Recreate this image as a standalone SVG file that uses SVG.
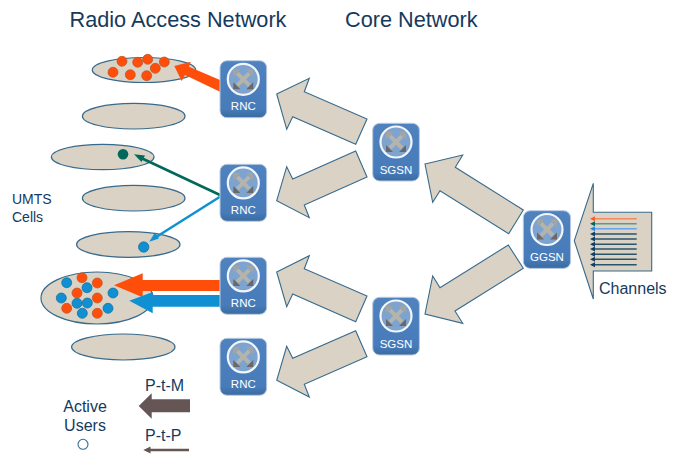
<svg xmlns="http://www.w3.org/2000/svg" xmlns:xlink="http://www.w3.org/1999/xlink" width="678" height="454" viewBox="0 0 678 454">
<style>
text{font-family:"Liberation Sans",Arial,sans-serif;fill:#153a5e}
.cell{fill:#d9d2c5;stroke:#376a8c;stroke-width:1.200}
.big{fill:#d9d2c5;stroke:#376a8c;stroke-width:1.100;stroke-linejoin:miter}
.o{fill:#ff4d0a;stroke:#b8552d;stroke-width:.7}
.b{fill:#0e90d2;stroke:#17699a;stroke-width:.7}
.box{fill:url(#bg);stroke:#b9cbe0;stroke-width:1}
.lab{fill:#fff;font-size:11.500px;text-anchor:middle}
.ch{stroke-width:1.500;fill:none}
</style>
<defs>
<linearGradient id="bg" x1="0" y1="0" x2="0" y2="1"><stop offset="0" stop-color="#4f82bf"/><stop offset=".85" stop-color="#477bb9"/><stop offset="1" stop-color="#3a6a9f"/></linearGradient>
<g id="icon">
<circle r="15.500" fill="#7fa3cf" stroke="#f2f6fb" stroke-width="2.200"/>
<path d="M-6-6L6 6M6-6L-6 6" stroke="#b4b4ac" stroke-width="4" fill="none"/>
<path d="M-10-3V-10H-3ZM10-3V-10H3Z" fill="#a5a5a0"/>
<path d="M-10 3V10H-3ZM10 3V10H3Z" fill="#6b6866"/>
</g>
</defs>

<g id="cells">
<ellipse class="cell" cx="144" cy="70" rx="51.700" ry="12.500"/>
<ellipse class="cell" cx="133.700" cy="116.200" rx="51.300" ry="12.800"/>
<ellipse class="cell" cx="102.700" cy="157" rx="51.300" ry="12.700"/>
<ellipse class="cell" cx="133.700" cy="198.200" rx="51.300" ry="12.800"/>
<ellipse class="cell" cx="128.300" cy="244.500" rx="51.700" ry="12.800"/>
<ellipse class="cell" cx="97" cy="298" rx="56" ry="26"/>
<ellipse class="cell" cx="123.300" cy="347" rx="51.700" ry="13"/>
</g>

<g id="users">
<circle class="o" cx="122" cy="61.300" r="5"/><circle class="o" cx="137.700" cy="62.300" r="5"/><circle class="o" cx="147.700" cy="59.300" r="5"/><circle class="o" cx="164.300" cy="62" r="5"/><circle class="o" cx="155.300" cy="68.300" r="5"/><circle class="o" cx="113" cy="72.300" r="5"/><circle class="o" cx="130.300" cy="74.700" r="5"/><circle class="o" cx="146.700" cy="75.700" r="5"/>
<circle cx="123" cy="154.300" r="5.300" fill="#00695c"/>
<circle class="b" cx="143.700" cy="247" r="5.200"/>
<circle class="b" cx="66.700" cy="282.700" r="5"/><circle class="b" cx="87" cy="287.700" r="5"/><circle class="b" cx="113" cy="293" r="5"/><circle class="b" cx="61.300" cy="298" r="5"/><circle class="b" cx="77" cy="303.300" r="5"/><circle class="b" cx="87.300" cy="303" r="5"/><circle class="b" cx="108" cy="308.300" r="5"/><circle class="b" cx="82.300" cy="313.300" r="5"/>
<circle class="o" cx="82" cy="277.700" r="5"/><circle class="o" cx="97.300" cy="283" r="5"/><circle class="o" cx="77" cy="293" r="5"/><circle class="o" cx="97.300" cy="298" r="5"/><circle class="o" cx="66.700" cy="308.300" r="5"/><circle class="o" cx="97.300" cy="313.300" r="5"/>
<circle cx="83" cy="444.300" r="5" fill="#fff" stroke="#376a8c" stroke-width="1.100"/>
</g>

<g id="connectors">
<polygon class="big" points="276.700,94 309.300,78.300 304.300,91.700 367,119 355.700,144.300 292.700,116.700 286.700,129.300"/>
<polygon class="big" points="276.700,200.700 286.700,166.700 292.700,179 355.700,151 367,177 304.300,205 309.300,217.700"/>
<polygon class="big" points="425,164 462.700,155 455.300,167.300 523.300,210 508.700,233.700 440,190.700 432.700,202.300"/>
<polygon class="big" points="425,314 432.700,276 440,287.700 508.300,245 523.300,268.300 455,311 462.700,323.300"/>
<polygon class="big" points="276.700,272 309.300,255.700 304.300,268.700 367,296 355.700,321.700 292.700,294 286.700,306.700"/>
<polygon class="big" points="276.700,380.300 286.700,346.300 292.700,358.300 355.700,330.700 367,356.700 304.300,384.300 309.300,397"/>
<polygon class="big" points="574.300,240.700 593.300,183.300 593.300,212.300 651.700,212.300 651.700,271 593.300,271 593.300,299"/>
<polygon points="174.300,66 190.700,61.700 189,66.700 220,80 220,91.700 185,75 181.700,81" fill="#ff4d0a"/>
<polygon points="114,285.300 142.700,273.300 142.700,280 220,280 220,291 142.700,291 142.700,297.300" fill="#ff4d0a"/>
<polygon points="129.300,300.700 152.700,292 152.700,295 220,295 220,306.700 152.700,306.700 152.700,313.300" fill="#0e90d2"/>
<path d="M220 195L138 156.500" stroke="#00695c" stroke-width="2.500" fill="none"/>
<polygon points="134,154.300 145,155.500 141.500,162" fill="#00695c"/>
<path d="M220 196.700L153 239" stroke="#0e90d2" stroke-width="2.500" fill="none"/>
<polygon points="149.300,241.700 155,232.500 159,238.500" fill="#0e90d2"/>
<polygon points="138.700,406 151.700,393.300 151.700,399.300 190,399.300 190,412.300 151.700,412.300 151.700,418.700" fill="#655555"/>
<path d="M149 450H189" stroke="#655555" stroke-width="2.500" fill="none"/>
<polygon points="143.300,450 150.500,446.500 150.500,453.500" fill="#655555"/>
<g class="ch">
<path d="M592 218.700H636.700" stroke="#f08a5d"/><path d="M592 223.700H636.700" stroke="#5f9a85"/><path d="M592 228.700H636.700" stroke="#66a3ee"/>
<path d="M592 234H636.700M592 239H636.700M592 244.300H636.700M592 249H636.700M592 254.300H636.700M592 259.300H636.700M592 264.700H636.700" stroke="#2c5468"/>
</g>
<polygon points="590,218.700 595,216.200 595,221.200" fill="#ff5a1f"/><polygon points="590,223.700 595,221.200 595,226.200" fill="#00695c"/><polygon points="590,228.700 595,226.200 595,231.200" fill="#1e86e8"/>
<path d="M590 234l5-2.500v5ZM590 239l5-2.500v5ZM590 244.300l5-2.500v5ZM590 249l5-2.500v5ZM590 254.300l5-2.500v5ZM590 259.300l5-2.500v5ZM590 264.700l5-2.500v5Z" fill="#123f63"/>
</g>

<g id="rnc1"><rect class="box" x="220" y="60.700" width="46.700" height="57" rx="7"/><use xlink:href="#icon" href="#icon" x="243.300" y="79.300"/><text class="lab" x="243.300" y="110">RNC</text></g>
<g id="rnc2"><rect class="box" x="220" y="164.300" width="46.700" height="57" rx="7"/><use xlink:href="#icon" href="#icon" x="243.300" y="182.900"/><text class="lab" x="243.300" y="214">RNC</text></g>
<g id="rnc3"><rect class="box" x="220" y="257.300" width="46.700" height="57" rx="7"/><use xlink:href="#icon" href="#icon" x="243.300" y="275.900"/><text class="lab" x="243.300" y="306.500">RNC</text></g>
<g id="rnc4"><rect class="box" x="220" y="338.300" width="46.700" height="57" rx="7"/><use xlink:href="#icon" href="#icon" x="243.300" y="356.900"/><text class="lab" x="243.300" y="388">RNC</text></g>
<g id="sgsn1"><rect class="box" x="372.700" y="123.300" width="46.700" height="57.700" rx="7"/><use xlink:href="#icon" href="#icon" x="396" y="142"/><text class="lab" x="396" y="173.500">SGSN</text></g>
<g id="sgsn2"><rect class="box" x="372.700" y="297.300" width="46.700" height="57.700" rx="7"/><use xlink:href="#icon" href="#icon" x="396" y="316"/><text class="lab" x="396" y="347.500">SGSN</text></g>
<g id="ggsn"><rect class="box" x="523.300" y="210.700" width="47.300" height="57.700" rx="7"/><use xlink:href="#icon" href="#icon" x="547" y="229.500"/><text class="lab" x="547" y="261">GGSN</text></g>

<g id="labels">
<text x="69.500" y="26.500" font-size="21.700">Radio Access Network</text>
<text x="345" y="26.500" font-size="21.700">Core Network</text>
<text x="12" y="204" font-size="14">UMTS</text>
<text x="12" y="222" font-size="14">Cells</text>
<text x="599" y="294" font-size="16">Channels</text>
<text x="145" y="391" font-size="16">P-t-M</text>
<text x="85" y="412" font-size="16" text-anchor="middle">Active</text>
<text x="85" y="431" font-size="16" text-anchor="middle">Users</text>
<text x="145" y="441" font-size="16">P-t-P</text>
</g>
</svg>
